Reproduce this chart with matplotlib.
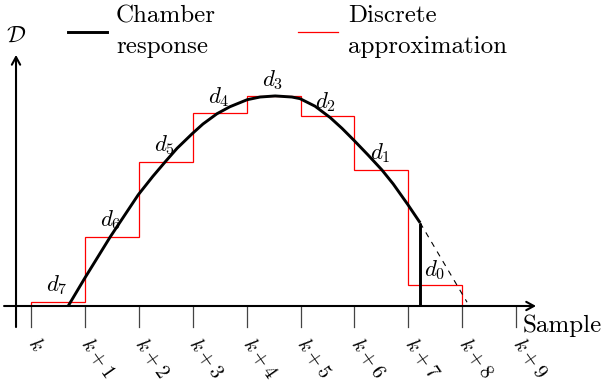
import matplotlib
matplotlib.use("Agg")
import matplotlib.pyplot as plt
import numpy as np

plt.rcParams["mathtext.fontset"] = "cm"
plt.rcParams["font.family"] = ["cmr10", "DejaVu Serif"]
plt.rcParams["axes.unicode_minus"] = False

# chamber response (x in samples after k, y in arbitrary units)
curve_x = [0.69, 1.00, 1.47, 1.99, 2.26, 2.49, 2.71, 2.99, 3.19, 3.45,
           3.69, 4.01, 4.25, 4.53, 4.84, 4.99, 5.27, 5.55, 5.77, 5.99,
           6.25, 6.51, 6.72, 6.99, 7.22]
curve_y = [0.00, 0.52, 1.28, 2.06, 2.40, 2.67, 2.92, 3.19, 3.37, 3.56,
           3.69, 3.82, 3.87, 3.89, 3.87, 3.84, 3.70, 3.49, 3.29, 3.07,
           2.80, 2.52, 2.26, 1.88, 1.54]
# extrapolated tail (dashed)
tail_x = [7.22, 8.09]
tail_y = [1.54, 0.07]

# discrete approximation, one level per sample interval
step_heights = [0.07, 1.28, 2.67, 3.58, 3.88, 3.51, 2.52, 0.38]
step_names = ["d_7", "d_6", "d_5", "d_4", "d_3", "d_2", "d_1", "d_0"]

tick_labels = ["k"] + [f"k+{i}" for i in range(1, 10)]

# label anchor points for d_i (data units)
name_pos = [(0.48, 0.39), (1.47, 1.59), (2.47, 2.98), (3.49, 3.87),
            (4.49, 4.19), (5.47, 3.78), (6.48, 2.83), (7.48, 0.67)]

FS = 18

fig = plt.figure(figsize=(6.01, 3.87), dpi=100)
ax = fig.add_axes([0, 0, 1, 1])
ax.set_xlim(-31 / 53.9, 570 / 53.9)
ax.set_ylim(-81 / 54, 306 / 54)
ax.axis("off")

# axes with arrows
arrow = dict(arrowstyle="->,head_length=0.55,head_width=0.3", lw=1.5,
             color="black", shrinkA=0, shrinkB=0)
ax.annotate("", xy=(9.37, 0), xytext=(-0.50, 0), arrowprops=arrow)
ax.annotate("", xy=(-0.278, 4.65), xytext=(-0.278, -0.39), arrowprops=arrow)

# ticks + rotated labels
ticks = np.arange(len(tick_labels))
for t, lab in zip(ticks, tick_labels):
    ax.plot([t, t], [0, -0.39], color="#444444", lw=0.9)
    ax.text(t + 0.02, -0.62, f"${lab}$", fontsize=14.5, rotation=-55,
            rotation_mode="anchor", ha="left", va="center")

# discrete approximation
ax.stairs(step_heights, np.arange(len(step_heights) + 1), baseline=0,
          color="red", lw=0.9)

# chamber response
ax.plot(curve_x, curve_y, color="black", lw=2.1, solid_capstyle="butt",
        solid_joinstyle="round")
ax.plot([curve_x[-1], curve_x[-1]], [curve_y[-1], 0], color="black", lw=2.1,
        solid_capstyle="butt")
ax.plot(tail_x, tail_y, color="black", lw=0.8, dashes=(5, 5))

for name, (px, py) in zip(step_names, name_pos):
    ax.text(px, py, f"${name}$", fontsize=16.5, ha="center", va="center")

ax.text(-0.278, 5.0, r"$\mathcal{D}$", fontsize=17, ha="center", va="center")
ax.text(9.13, -0.476, "Sample", fontsize=FS, ha="left", va="baseline")

# legend
ax.plot([0.69, 1.41], [5.07, 5.07], color="black", lw=2.1)
ax.text(1.577, (306 - 22.7) / 54, "Chamber", fontsize=FS, va="baseline")
ax.text(1.577, (306 - 52.7) / 54, "response", fontsize=FS, va="baseline")
ax.plot([4.95, 5.70], [5.07, 5.07], color="red", lw=0.9)
ax.text(5.881, (306 - 22.5) / 54, "Discrete", fontsize=FS, va="baseline")
ax.text(5.881, (306 - 52.7) / 54, "approximation", fontsize=FS, va="baseline")

fig.savefig("out.png", dpi=100)
